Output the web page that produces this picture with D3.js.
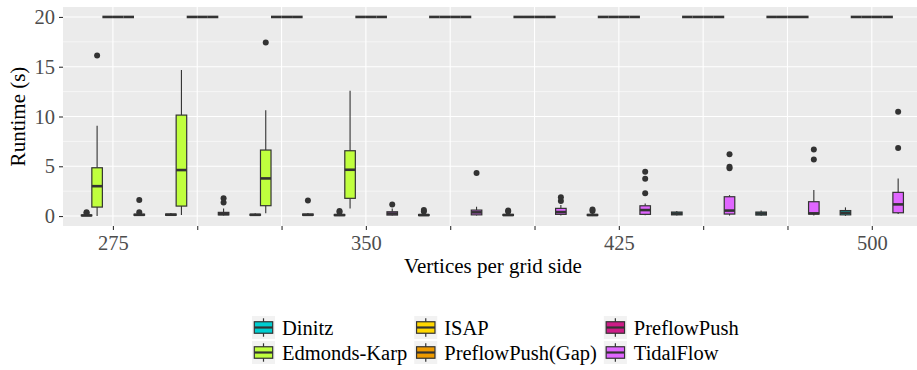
<!DOCTYPE html>
<html><head><meta charset="utf-8">
<script src="https://cdn.jsdelivr.net/npm/d3@7"></script>
<style>body{margin:0;background:#fff} svg{display:block}</style>
</head><body><svg id="c" width="917" height="370"></svg>
<script>
const groups = [275,300,325,350,375,400,425,450,475,500];
const seriesNames = ["Dinitz","Edmonds-Karp","ISAP","PreflowPush(Gap)","PreflowPush","TidalFlow"];
const seriesColors = ["#00CED1","#C0FF3E","#FFD700","#EE9A00","#CD1C87","#E066FF"];
const xTickLabels = ["275","","","350","","","425","","","500"];
const yTickValues = [0,5,10,15,20];
const yMinorValues = [2.5,7.5,12.5,17.5];

// [lower whisker, Q1, median, Q3, upper whisker] per group
const dinitzStats = [
  [0.0,0.03,0.06,0.10,0.18],[0.0,0.08,0.13,0.20,0.30],[0.0,0.08,0.12,0.18,0.28],
  [0.0,0.05,0.10,0.15,0.25],[0.0,0.05,0.10,0.15,0.28],[0.0,0.06,0.10,0.16,0.30],
  [0.0,0.06,0.10,0.16,0.30],[0.05,0.12,0.25,0.40,0.50],[0.02,0.10,0.25,0.40,0.55],
  [0.02,0.12,0.33,0.55,0.87]];
const dinitzOutliers = [[0.30,0.38],[],[],[0.40,0.50],[0.45,0.60],[0.45,0.55],[0.50,0.65],[],[],[]];

const edmondsKarpStats = [
  [0.0,0.9,3.0,4.85,9.07],[0.1,1.0,4.62,10.14,14.66],[0.27,1.04,3.78,6.63,10.64],
  [0.77,1.78,4.65,6.56,12.58],[20,20,20,20,20],[20,20,20,20,20],
  [20,20,20,20,20],[20,20,20,20,20],[20,20,20,20,20],[20,20,20,20,20]];
const edmondsKarpOutliers = [[16.13],[],[17.44],[],[],[],[],[],[],[]];

const isapStats = [
  [20,20,20,20,20],[20,20,20,20,20],[20,20,20,20,20],[20,20,20,20,20],[20,20,20,20,20],
  [20,20,20,20,20],[20,20,20,20,20],[20,20,20,20,20],[20,20,20,20,20],[20,20,20,20,20]];
const isapOutliers = [[],[],[],[],[],[],[],[],[],[]];

const preflowGapStats = [
  [20,20,20,20,20],[20,20,20,20,20],[20,20,20,20,20],[20,20,20,20,20],[20,20,20,20,20],
  [20,20,20,20,20],[20,20,20,20,20],[20,20,20,20,20],[20,20,20,20,20],[20,20,20,20,20]];
const preflowGapOutliers = [[],[],[],[],[],[],[],[],[],[]];

const preflowStats = [
  [20,20,20,20,20],[20,20,20,20,20],[20,20,20,20,20],[20,20,20,20,20],[20,20,20,20,20],
  [20,20,20,20,20],[20,20,20,20,20],[20,20,20,20,20],[20,20,20,20,20],[20,20,20,20,20]];
const preflowOutliers = [[],[],[],[],[],[],[],[],[],[]];

const tidalFlowStats = [
  [0.02,0.08,0.12,0.18,0.25],[0.05,0.12,0.20,0.37,0.77],[0.02,0.08,0.12,0.20,0.30],
  [0.05,0.10,0.25,0.43,0.77],[0.05,0.12,0.37,0.60,0.93],[0.05,0.17,0.40,0.77,1.10],
  [0.07,0.17,0.60,1.03,1.27],[0.05,0.20,0.55,1.94,2.10],[0.05,0.20,0.27,1.44,2.61],
  [0.20,0.33,1.17,2.38,3.78]];
const tidalFlowOutliers = [[0.38,1.6],[1.37,1.78],[1.55],[1.15],[4.32],[1.5,1.9],
  [2.28,3.75,4.45],[4.8,4.95,6.22],[5.69,6.69],[6.83,10.47]];

const allStats = [dinitzStats, edmondsKarpStats, isapStats, preflowGapStats, preflowStats, tidalFlowStats];
const allOutliers = [dinitzOutliers, edmondsKarpOutliers, isapOutliers, preflowGapOutliers, preflowOutliers, tidalFlowOutliers];

const P = {left:63, right:917, top:7, bottom:226};
const FONT = "Liberation Serif";
const dark = "#333333";

const svg = d3.select("#c");
const x = d3.scaleLinear().domain([260.2, 513.4]).range([P.left, P.right]);
const y = d3.scaleLinear().domain([-1, 21]).range([P.bottom, P.top]);

// panel
svg.append("rect").attr("x",P.left).attr("y",P.top).attr("width",P.right-P.left).attr("height",P.bottom-P.top).attr("fill","#EBEBEB");
const grid = svg.append("g");
grid.selectAll(".ymin").data(yMinorValues).join("line")
  .attr("x1",P.left).attr("x2",P.right).attr("y1",d=>y(d)).attr("y2",d=>y(d))
  .attr("stroke","#fff").attr("stroke-width",0.55);
grid.selectAll(".ymaj").data(yTickValues).join("line")
  .attr("x1",P.left).attr("x2",P.right).attr("y1",d=>y(d)).attr("y2",d=>y(d))
  .attr("stroke","#fff").attr("stroke-width",1.1);
grid.selectAll(".xmaj").data(groups).join("line")
  .attr("y1",P.top).attr("y2",P.bottom).attr("x1",d=>x(d)).attr("x2",d=>x(d))
  .attr("stroke","#fff").attr("stroke-width",1.1);

// boxes
const dodgeUnits = 25*0.75;
const slot = x(groups[0] + dodgeUnits/6) - x(groups[0]);
const halfW = slot/2;
const nS = seriesNames.length;
const boxes = svg.append("g");
groups.forEach((gv, gi) => {
  seriesNames.forEach((name, si) => {
    const st = allStats[si][gi];
    const cx = x(gv) + (si - (nS-1)/2) * slot;
    const g = boxes.append("g");
    g.append("line").attr("x1",cx).attr("x2",cx).attr("y1",y(st[3])).attr("y2",y(st[4]))
      .attr("stroke",dark).attr("stroke-width",1.1);
    g.append("line").attr("x1",cx).attr("x2",cx).attr("y1",y(st[1])).attr("y2",y(st[0]))
      .attr("stroke",dark).attr("stroke-width",1.1);
    g.append("rect").attr("x",cx-halfW).attr("width",2*halfW)
      .attr("y",y(st[3])).attr("height",Math.max(0,y(st[1])-y(st[3])))
      .attr("fill",seriesColors[si]).attr("stroke",dark).attr("stroke-width",1.2);
    g.append("line").attr("x1",cx-halfW).attr("x2",cx+halfW).attr("y1",y(st[2])).attr("y2",y(st[2]))
      .attr("stroke",dark).attr("stroke-width",2.6);
    g.selectAll("circle").data(allOutliers[si][gi]).join("circle")
      .attr("cx",cx).attr("cy",d=>y(d)).attr("r",3).attr("fill",dark);
  });
});

// axes
const yAxis = svg.append("g").attr("transform",`translate(${P.left},0)`)
  .call(d3.axisLeft(y).tickValues(yTickValues).tickSize(4).tickPadding(4));
const xAxis = svg.append("g").attr("transform",`translate(0,${P.bottom})`)
  .call(d3.axisBottom(x).tickValues(groups).tickFormat((d,i)=>xTickLabels[i]).tickSize(4).tickPadding(5));
[yAxis,xAxis].forEach(a=>{
  a.attr("font-family",FONT);
  a.select(".domain").remove();
  a.selectAll("line").attr("stroke",dark).attr("stroke-width",1.1);
  a.selectAll("text").attr("fill","#4D4D4D").attr("font-family",FONT).attr("font-size",20.5);
});

// titles
svg.append("text").attr("x",(P.left+P.right)/2 + 3).attr("y",273).attr("text-anchor","middle")
  .attr("font-family",FONT).attr("font-size",21).attr("fill","#000").text("Vertices per grid side");
svg.append("text").attr("transform",`translate(25,${(P.top+P.bottom)/2}) rotate(-90)`).attr("text-anchor","middle")
  .attr("font-family",FONT).attr("font-size",21).attr("fill","#000").text("Runtime (s)");

// legend (2 rows, filled by column)
const leg = svg.append("g");
const keyS = 23, rowTops = [316, 341], legFont = 20.5;
const nCols = 3;
let colX = 252;
for (let c = 0; c < nCols; c++) {
  const items = [c*2, c*2+1];
  let maxW = 0;
  items.forEach((si, r) => {
    const top = rowTops[r];
    const k = leg.append("g").attr("transform",`translate(${colX},${top})`);
    k.append("rect").attr("width",keyS).attr("height",keyS).attr("fill","#F2F2F2");
    const cx = keyS/2;
    k.append("line").attr("x1",cx).attr("x2",cx).attr("y1",keyS*0.1).attr("y2",keyS*0.9).attr("stroke",dark).attr("stroke-width",1.2);
    k.append("rect").attr("x",keyS*0.1).attr("y",keyS*0.25).attr("width",keyS*0.8).attr("height",keyS*0.5)
      .attr("fill",seriesColors[si]).attr("stroke",dark).attr("stroke-width",1.2);
    k.append("line").attr("x1",keyS*0.1).attr("x2",keyS*0.9).attr("y1",keyS*0.5).attr("y2",keyS*0.5).attr("stroke",dark).attr("stroke-width",2.2);
    const t = leg.append("text").attr("x",colX+keyS+7).attr("y",top+keyS/2+7)
      .attr("font-family",FONT).attr("font-size",legFont).attr("fill","#000").text(seriesNames[si]);
    maxW = Math.max(maxW, t.node().getComputedTextLength());
  });
  colX = colX + keyS + 7 + maxW + 7;
}
</script></body></html>
